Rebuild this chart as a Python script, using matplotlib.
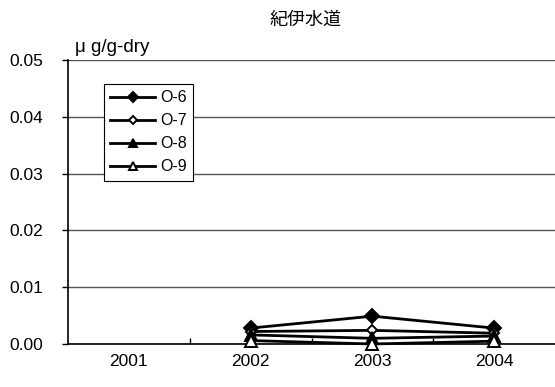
import matplotlib
matplotlib.use("Agg")
import matplotlib.pyplot as plt
from matplotlib.ticker import FixedLocator, FormatStrFormatter

plt.rcParams['font.family'] = ['Liberation Sans', 'Noto Sans CJK JP', 'DejaVu Sans']

years = ["2001", "2002", "2003", "2004"]
series_names = ["O-6", "O-7", "O-8", "O-9"]
o6 = [None, 0.0028, 0.0049, 0.0028]
o7 = [None, 0.0022, 0.0024, 0.0019]
o8 = [None, 0.0016, 0.0010, 0.0014]
o9 = [None, 0.0006, 0.0000, 0.0005]
title = "紀伊水道"
unit = "μ g/g-dry"

fig = plt.figure(figsize=(5.55, 3.87), dpi=100)
ax = fig.add_axes([68/555, 1 - 344/387, (555 - 68)/555, (344 - 60)/387])

x = list(range(len(years)))
styles = [
    dict(marker='D', markersize=7, markerfacecolor='black'),
    dict(marker='D', markersize=5.5, markerfacecolor='white'),
    dict(marker='^', markersize=8, markerfacecolor='black'),
    dict(marker='^', markersize=8, markerfacecolor='white'),
]
for name, vals, st in zip(series_names, [o6, o7, o8, o9], styles):
    xs = [xi for xi, v in zip(x, vals) if v is not None]
    ys = [v for v in vals if v is not None]
    ax.plot(xs, ys, color='black', linewidth=2, markeredgecolor='black',
            markeredgewidth=1.4, label=name, clip_on=False, zorder=3, **st)

ax.set_xlim(-0.5, len(years) - 0.5)
ax.set_ylim(0, 0.05)
ax.yaxis.set_major_locator(FixedLocator([0, 0.01, 0.02, 0.03, 0.04, 0.05]))
ax.yaxis.set_major_formatter(FormatStrFormatter('%.2f'))
ax.set_xticks(x)
ax.set_xticklabels(years)
ax.set_xticks([i + 0.5 for i in range(len(years) - 1)], minor=True)
ax.tick_params(axis='x', which='major', length=0, pad=7, labelsize=12.5)
ax.tick_params(axis='x', which='minor', direction='in', length=4, width=1, color='black')
ax.tick_params(axis='y', which='major', direction='out', length=4, width=1, pad=14, labelsize=12.5)

ax.grid(axis='y', color='#555555', linewidth=1)
ax.set_axisbelow(True)
for s in ['top', 'right']:
    ax.spines[s].set_visible(False)
ax.spines['left'].set_linewidth(1.2)
ax.spines['bottom'].set_linewidth(1.2)

leg = ax.legend(loc='upper left', bbox_to_anchor=((104 - 68)/487, (344 - 84)/284),
                frameon=True, fancybox=False, shadow=False, framealpha=1,
                edgecolor='black', fontsize=11.5, handlelength=2.8,
                handletextpad=0.3, labelspacing=0.5, borderpad=0.4,
                borderaxespad=0, markerscale=0.8)
leg.get_frame().set_linewidth(0.8)

fig.text(306/555, 1 - 20/387, title, ha='center', va='center', fontsize=13,
         family=['Noto Sans CJK JP', 'DejaVu Sans'])
fig.text(75/555, 1 - 47/387, unit, ha='left', va='center', fontsize=13.5)

fig.savefig("out.png", dpi=100)
